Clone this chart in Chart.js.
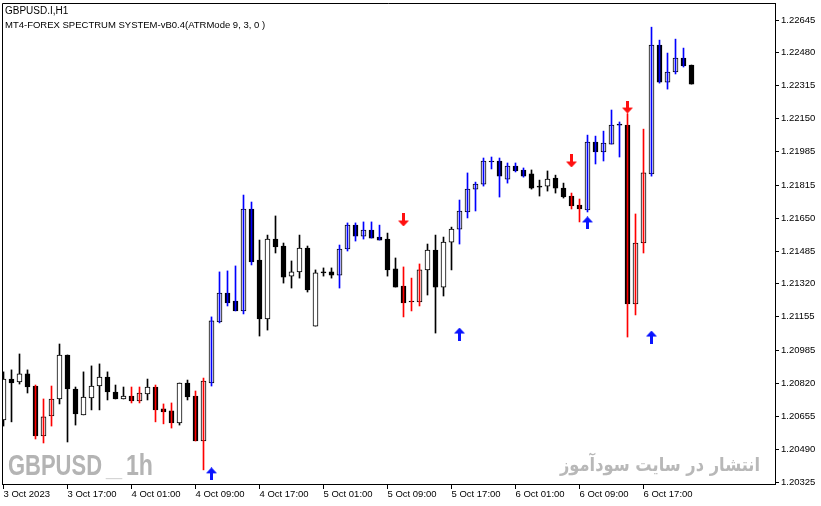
<!DOCTYPE html>
<html>
<head>
<meta charset="utf-8">
<script src="https://cdn.jsdelivr.net/npm/chart.js@4.4.0/dist/chart.umd.min.js"></script>
<style>
  html, body { margin: 0; padding: 0; background: #fff; }
  canvas { display: block; }
</style>
</head>
<body>
<canvas id="chart" width="821" height="506"></canvas>
<script>
// GBPUSD.I H1 candles, 3 Oct 09:00 -> 6 Oct 23:00
const openPrices = [
  1.20637, 1.20842, 1.20827, 1.20868, 1.20807, 1.20556, 1.20657, 1.20742, 1.20963, 1.20792,
  1.20662, 1.20747, 1.20807, 1.20852, 1.20777, 1.20742, 1.20757, 1.20732, 1.20767, 1.20802,
  1.20692, 1.20682, 1.20622, 1.20822, 1.20757, 1.20531, 1.20822, 1.21129, 1.21274, 1.21234,
  1.21184, 1.21696, 1.21440, 1.21144, 1.21545, 1.21510, 1.21359, 1.21380, 1.21500, 1.21108,
  1.21380, 1.21380, 1.21364, 1.21495, 1.21615, 1.21560, 1.21590, 1.21555, 1.21545, 1.21395,
  1.21309, 1.21234, 1.21229, 1.21390, 1.21490, 1.21304, 1.21530, 1.21595, 1.21681, 1.21796,
  1.21821, 1.21937, 1.21937, 1.21846, 1.21912, 1.21892, 1.21872, 1.21806, 1.21811, 1.21851,
  1.21801, 1.21761, 1.21716, 1.21691, 1.22032, 1.21982, 1.22022, 1.22117, 1.22117, 1.21219,
  1.21525, 1.21872, 1.22519, 1.22333, 1.22384, 1.22454, 1.22419
];
const highPrices = [
  1.20878, 1.20888, 1.20968, 1.20888, 1.20812, 1.20742, 1.20807, 1.21018, 1.20963, 1.20802,
  1.20878, 1.20908, 1.20918, 1.20878, 1.20812, 1.20802, 1.20802, 1.20802, 1.20842, 1.20812,
  1.20717, 1.20722, 1.20822, 1.20837, 1.20782, 1.20847, 1.21154, 1.21380, 1.21385, 1.21410,
  1.21766, 1.21731, 1.21540, 1.21565, 1.21661, 1.21525, 1.21435, 1.21565, 1.21510, 1.21390,
  1.21400, 1.21400, 1.21515, 1.21626, 1.21626, 1.21631, 1.21631, 1.21615, 1.21575, 1.21450,
  1.21405, 1.21349, 1.21420, 1.21520, 1.21565, 1.21555, 1.21605, 1.21741, 1.21877, 1.21831,
  1.21952, 1.21957, 1.21952, 1.21927, 1.21927, 1.21902, 1.21892, 1.21841, 1.21887, 1.21866,
  1.21826, 1.21776, 1.21746, 1.22067, 1.22062, 1.22087, 1.22193, 1.22133, 1.22173, 1.21671,
  1.22097, 1.22609, 1.22544, 1.22479, 1.22549, 1.22504, 1.22419
];
const lowPrices = [
  1.20606, 1.20627, 1.20817, 1.20772, 1.20541, 1.20521, 1.20606, 1.20717, 1.20526, 1.20611,
  1.20662, 1.20687, 1.20687, 1.20737, 1.20742, 1.20742, 1.20722, 1.20722, 1.20737, 1.20627,
  1.20617, 1.20596, 1.20611, 1.20737, 1.20531, 1.20386, 1.20807, 1.21124, 1.21209, 1.21184,
  1.21169, 1.21415, 1.21058, 1.21088, 1.21475, 1.21324, 1.21299, 1.21349, 1.21279, 1.21108,
  1.21359, 1.21349, 1.21299, 1.21485, 1.21535, 1.21545, 1.21550, 1.21540, 1.21359, 1.21304,
  1.21154, 1.21184, 1.21209, 1.21264, 1.21073, 1.21259, 1.21390, 1.21520, 1.21651, 1.21686,
  1.21811, 1.21897, 1.21756, 1.21826, 1.21882, 1.21856, 1.21796, 1.21761, 1.21786, 1.21776,
  1.21751, 1.21696, 1.21631, 1.21681, 1.21922, 1.21937, 1.22022, 1.21957, 1.21053, 1.21164,
  1.21475, 1.21861, 1.22328, 1.22298, 1.22374, 1.22409, 1.22323
];
const closePrices = [
  1.20842, 1.20822, 1.20868, 1.20802, 1.20556, 1.20652, 1.20742, 1.20963, 1.20792, 1.20667,
  1.20752, 1.20807, 1.20852, 1.20777, 1.20742, 1.20757, 1.20732, 1.20772, 1.20802, 1.20687,
  1.20677, 1.20622, 1.20822, 1.20752, 1.20531, 1.20832, 1.21134, 1.21274, 1.21224, 1.21184,
  1.21696, 1.21430, 1.21144, 1.21545, 1.21505, 1.21354, 1.21380, 1.21500, 1.21289, 1.21375,
  1.21375, 1.21364, 1.21495, 1.21615, 1.21560, 1.21590, 1.21550, 1.21540, 1.21390, 1.21304,
  1.21224, 1.21229, 1.21390, 1.21490, 1.21304, 1.21530, 1.21595, 1.21686, 1.21796, 1.21821,
  1.21937, 1.21932, 1.21861, 1.21912, 1.21887, 1.21861, 1.21801, 1.21806, 1.21846, 1.21801,
  1.21756, 1.21711, 1.21696, 1.22032, 1.21982, 1.22027, 1.22117, 1.22117, 1.21219, 1.21525,
  1.21877, 1.22519, 1.22333, 1.22384, 1.22454, 1.22414, 1.22323
];
// indicator state per bar: 1 = up (blue wick), -1 = down (red wick), 0 = none
const trendState = [
  0, 0, 0, 0, -1, -1, -1, 0, 0, 0,
  0, 0, 0, 0, 0, 0, -1, -1, 0, -1,
  -1, -1, 0, 0, -1, -1, 1, 1, 1, 1,
  1, 1, 0, 0, 0, 0, 0, 0, 0, 0,
  0, 0, 1, 1, 1, 1, 1, 1, 0, 0,
  -1, -1, -1, 0, 0, 0, 0, 1, 1, 1,
  1, 1, 1, 1, 1, 1, 0, 0, 0, 0,
  0, -1, -1, 1, 1, 1, 1, 1, -1, -1,
  -1, 1, 1, 1, 1, 1, 0
];
const buyArrowBars = [26, 57, 73, 81];
const buyArrowPrices = [1.20366, 1.21068, 1.21626, 1.21053];
const sellArrowBars = [50, 71, 78];
const sellArrowPrices = [1.21641, 1.21937, 1.22208];

const timeTickBars = [0, 8, 16, 24, 32, 40, 48, 56, 64, 72, 80];
const timeTickLabels = ['3 Oct 2023', '3 Oct 17:00', '4 Oct 01:00', '4 Oct 09:00', '4 Oct 17:00',
  '5 Oct 01:00', '5 Oct 09:00', '5 Oct 17:00', '6 Oct 01:00', '6 Oct 09:00', '6 Oct 17:00'];
const priceTicks = [1.22645, 1.22480, 1.22315, 1.22150, 1.21985, 1.21815, 1.21650, 1.21485,
  1.21320, 1.21155, 1.20985, 1.20820, 1.20655, 1.20490, 1.20325];
const priceMin = 1.20315;
const priceMax = 1.227304;

const trendColors = { '1': '#0000ff', '-1': '#ff0000', '0': '#000000' };
const axisFont = { family: '"Liberation Sans", Arial, sans-serif', size: 9.5 };

const bars = openPrices.map((o, i) => ({
  i, o, h: highPrices[i], l: lowPrices[i], c: closePrices[i], t: trendState[i]
}));

function arrowImage(color, down) {
  const c = document.createElement('canvas');
  c.width = 11; c.height = 13;
  const g = c.getContext('2d');
  if (down) { g.translate(0, 13); g.scale(1, -1); }
  g.fillStyle = color;
  g.beginPath();
  g.moveTo(5.5, 0);
  g.lineTo(11, 6);
  g.lineTo(7, 6);
  g.lineTo(7, 13);
  g.lineTo(4, 13);
  g.lineTo(4, 6);
  g.lineTo(0, 6);
  g.closePath();
  g.fill();
  return c;
}

const framePlugin = {
  id: 'frame',
  afterDraw(chart) {
    const { ctx, chartArea: a } = chart;
    ctx.save();
    ctx.strokeStyle = '#000';
    ctx.lineWidth = 1;
    ctx.beginPath();
    ctx.moveTo(a.left + 0.5, a.bottom);
    ctx.lineTo(a.left + 0.5, a.top + 0.5);
    ctx.lineTo(a.right, a.top + 0.5);
    ctx.stroke();
    ctx.fillStyle = '#000';
    ctx.textBaseline = 'alphabetic';
    ctx.font = '10px "Liberation Sans", Arial, sans-serif';
    ctx.fillText('GBPUSD.I,H1', 5, 14);
    ctx.font = '9.5px "Liberation Sans", Arial, sans-serif';
    ctx.fillText('MT4-FOREX SPECTRUM SYSTEM-vB0.4(ATRMode 9, 3, 0 )', 5, 28);
    ctx.restore();
  }
};

const watermarkPlugin = {
  id: 'watermark',
  beforeDatasetsDraw(chart) {
    const { ctx } = chart;
    ctx.save();
    ctx.textBaseline = 'alphabetic';
    ctx.font = 'bold 29px "Liberation Sans", Arial, sans-serif';
    const put = (txt, x, y, w, col) => {
      ctx.save();
      ctx.fillStyle = col;
      const m = ctx.measureText(txt).width;
      ctx.translate(x, y);
      ctx.scale(w / m, 1);
      ctx.fillText(txt, 0, 0);
      ctx.restore();
    };
    put('GBPUSD', 8, 475, 94, '#b4b4b4');
    put('_', 106, 476, 16, '#d4d4d4');
    put('1h', 126, 475, 27, '#b4b4b4');

    ctx.font = 'bold 19px "DejaVu Sans", sans-serif';
    ctx.fillStyle = '#b8b8b8';
    ctx.direction = 'rtl';
    ctx.textAlign = 'right';
    const fa = 'انتشار در سایت سودآموز';
    const fw = ctx.measureText(fa).width;
    ctx.translate(760, 471);
    ctx.scale(200 / fw, 1);
    ctx.fillText(fa, 0, 0);
    ctx.restore();
  }
};

new Chart(document.getElementById('chart'), {
  type: 'bar',
  data: {
    datasets: [
      {
        type: 'scatter',
        data: buyArrowBars.map((b, k) => ({ x: b, y: buyArrowPrices[k] })),
        pointStyle: arrowImage('#0a14ff', false),
        pointRadius: 6
      },
      {
        type: 'scatter',
        data: sellArrowBars.map((b, k) => ({ x: b, y: sellArrowPrices[k] })),
        pointStyle: arrowImage('#ff1010', true),
        pointRadius: 6
      },
      {
        // coloured wicks drawn over the bodies
        data: bars.filter(b => b.t !== 0).map(b => ({ x: b.i, y: [b.l, b.h] })),
        backgroundColor: bars.filter(b => b.t !== 0).map(b => trendColors[b.t]),
        barThickness: 1,
        borderWidth: 0,
        grouped: false
      },
      {
        data: bars.map(b => ({ x: b.i, y: [Math.min(b.o, b.c), Math.max(b.o, b.c)] })),
        backgroundColor: bars.map(b => (b.c > b.o ? '#ffffff' : '#000000')),
        borderColor: '#000000',
        borderWidth: 1,
        borderSkipped: false,
        barThickness: 5,
        minBarLength: 1,
        grouped: false
      },
      {
        // plain wicks behind the bodies
        data: bars.filter(b => b.t === 0).map(b => ({ x: b.i, y: [b.l, b.h] })),
        backgroundColor: '#000000',
        barThickness: 1,
        borderWidth: 0,
        grouped: false
      }
    ]
  },
  options: {
    responsive: false,
    animation: false,
    devicePixelRatio: 1,
    layout: { autoPadding: false, padding: { left: 2, top: 3, right: 0, bottom: 0 } },
    plugins: {
      legend: { display: false },
      tooltip: { enabled: false },
      title: { display: false }
    },
    scales: {
      x: {
        type: 'linear',
        offset: false,
        min: -0.1875,
        max: 96.4375,
        afterBuildTicks: s => { s.ticks = timeTickBars.map(v => ({ value: v })); },
        afterFit: s => { s.height = 22; s.paddingLeft = 0; s.paddingRight = 0; },
        ticks: {
          callback: (v, idx) => timeTickLabels[idx],
          align: 'start',
          maxRotation: 0,
          autoSkip: false,
          padding: 0,
          color: '#000',
          font: axisFont
        },
        grid: { offset: false, drawOnChartArea: false, tickLength: 5, color: '#000' },
        border: { color: '#000' }
      },
      y: {
        position: 'right',
        min: priceMin,
        max: priceMax,
        afterBuildTicks: s => { s.ticks = priceTicks.map(v => ({ value: v })); },
        afterFit: s => { s.width = 46; s.paddingTop = 0; s.paddingBottom = 0; },
        ticks: {
          callback: v => v.toFixed(5),
          padding: 2,
          color: '#000',
          font: axisFont
        },
        grid: { drawOnChartArea: false, tickLength: 4, color: '#000' },
        border: { color: '#000' }
      }
    }
  },
  plugins: [framePlugin, watermarkPlugin]
});
</script>
</body>
</html>
